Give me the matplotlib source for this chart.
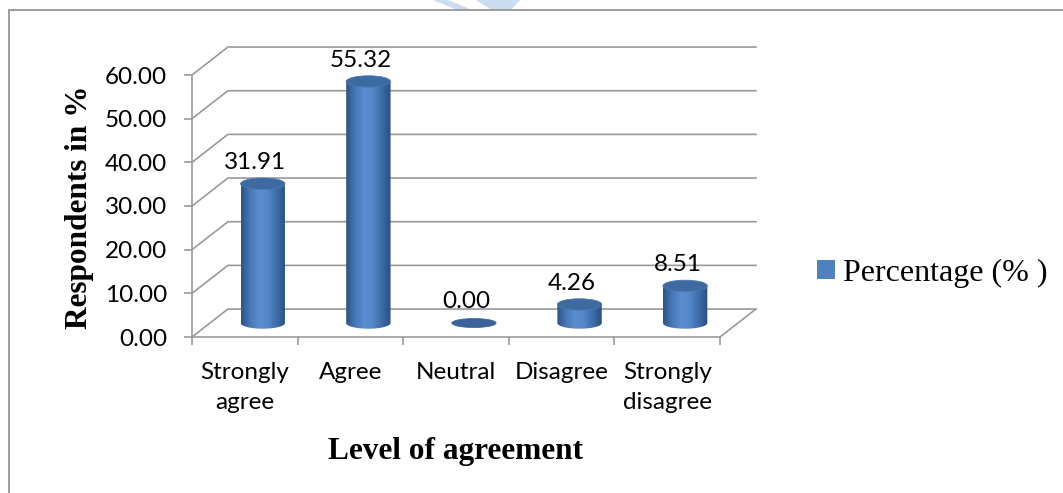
import numpy as np
import matplotlib.pyplot as plt
from matplotlib.colors import LinearSegmentedColormap
from matplotlib.patches import Ellipse, Polygon, Patch, Rectangle

categories = ["Strongly\nagree", "Agree", "Neutral", "Disagree", "Strongly\ndisagree"]
percentages = [31.91, 55.32, 0.00, 4.26, 8.51]
y_ticks = [0, 10, 20, 30, 40, 50, 60]

W, H = 1063, 493
fig = plt.figure(figsize=(W / 100, H / 100), dpi=100)
fig.patch.set_facecolor("white")

# faint logo fragment at the very top
for xs in ([433, 448, 470, 455], [476, 520, 512, 490]):
    fig.patches.append(Polygon([(xs[0] / W, 1), (xs[1] / W, 1), (xs[2] / W, 1 - 9 / H),
                                (xs[3] / W, 1 - 9 / H)], closed=True, transform=fig.transFigure,
                               facecolor="#CADCF0", edgecolor="none"))

# outer chart border (runs off the right and bottom edge)
fig.patches.append(Rectangle((9 / W, -0.2), 1.2, 1.2 - 10 / H, transform=fig.transFigure,
                             fill=False, edgecolor="#8C8C8C", lw=1.2))

ax = fig.add_axes([192 / W, 156 / H, 528 / W, 262 / H])
n = len(categories)

# depth of the fake 3D box in data units
dx, dy = 0.34, 6.4
grid_c = "#999999"

# back wall gridlines + side wall diagonals
for v in y_ticks:
    ax.plot([0, dx, n + dx], [v, v + dy, v + dy], color=grid_c, lw=1.2,
            clip_on=False, zorder=1, solid_joinstyle="miter")
# right edge of the floor
ax.plot([n, n + dx], [0, dy], color=grid_c, lw=1.2, clip_on=False, zorder=1)

cmap = LinearSegmentedColormap.from_list(
    "cyl", ["#2B5487", "#4677B6", "#5B8ED0", "#5387C8", "#3D6CA8", "#28507F"])
w, eh = 0.42, 2.6
t = np.linspace(np.pi, 2 * np.pi, 60)
grad = np.linspace(0, 1, 256)[None, :]

for i, v in enumerate(percentages):
    cx = i + 0.5 + dx / 2
    base = dy / 2
    top = base + v
    if v > 0:
        verts = [(cx - w / 2, top)]
        verts += list(zip(cx + w / 2 * np.cos(t), base + eh / 2 * np.sin(t)))
        verts += [(cx + w / 2, top)]
        body = Polygon(verts, closed=True, facecolor="none", edgecolor="none", zorder=3)
        ax.add_patch(body)
        im = ax.imshow(grad, cmap=cmap, extent=[cx - w / 2, cx + w / 2, base - eh / 2, top],
                       aspect="auto", origin="lower", zorder=3, interpolation="bilinear")
        im.set_clip_path(body)
        ax.add_patch(Ellipse((cx, top), w, eh, facecolor="#3E6AA2",
                             edgecolor="#4A78B3", lw=0.6, zorder=4))
    else:
        ax.add_patch(Ellipse((cx, top), w, eh * 0.8, facecolor="#3A6399",
                             edgecolor="#3A6399", lw=0.5, zorder=4))
    ax.text(cx - 0.07, top + 4.9, f"{v:.2f}", ha="center", va="center",
            fontsize=17.5, family="Lato", color="black", zorder=5)

ax.set_xlim(0, n)
ax.set_ylim(0, 60)
ax.set_facecolor("none")
for s in ["top", "right"]:
    ax.spines[s].set_visible(False)
for s in ["left", "bottom"]:
    ax.spines[s].set_color(grid_c)
    ax.spines[s].set_linewidth(1.2)

ax.set_yticks(y_ticks)
ax.set_yticklabels([f"{v:.2f}" for v in y_ticks], family="Lato", fontsize=17.5)
ax.tick_params(axis="y", length=6, width=1.2, color=grid_c, pad=12)

ax.set_xticks(range(n + 1))
ax.set_xticklabels([])
ax.tick_params(axis="x", which="major", length=6, width=1.2, color=grid_c)
ax.set_xticks([i + 0.5 for i in range(n)], minor=True)
ax.set_xticklabels(categories, minor=True, family="Lato", fontsize=17.5)
ax.tick_params(axis="x", which="minor", length=0, pad=18)
for lab in ax.get_xticklabels(minor=True):
    lab.set_linespacing(1.55)

fig.text(80 / W, 1 - 207 / H, "Respondents in %", rotation=90, ha="center", va="center",
         family="Liberation Serif", weight="bold", fontsize=22.5)
fig.text(456 / W, 1 - 451 / H, "Level of agreement", ha="center", va="center",
         family="Liberation Serif", weight="bold", fontsize=22.5)

fig.legend(handles=[Patch(facecolor="#4F81BD", edgecolor="none", label="Percentage (% )")],
           loc="center left", bbox_to_anchor=(817 / W, 1 - 273 / H), frameon=False,
           prop={"family": "Liberation Serif", "size": 23}, handlelength=0.55,
           handleheight=0.55, handletextpad=0.25, borderpad=0, borderaxespad=0)

fig.savefig("out.png", dpi=100)
